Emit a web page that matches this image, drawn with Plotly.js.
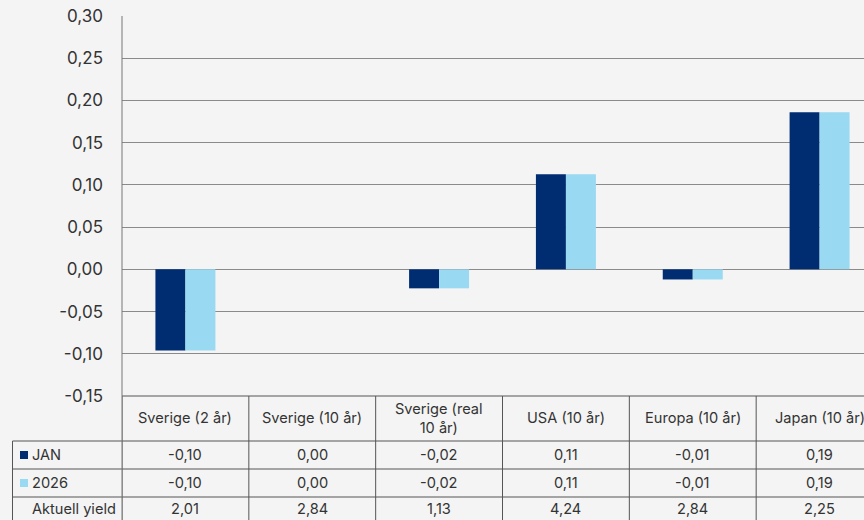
<!DOCTYPE html>
<html><head><meta charset="utf-8">
<script src="https://cdn.plot.ly/plotly-3.0.1.min.js"></script>
<style>html,body{margin:0;padding:0;background:#f4f4f4;overflow:hidden;}#chart{width:884px;height:520px;}</style>
</head><body><div id="chart"></div>
<script>
const categories = ["Sverige (2 år)", "Sverige (10 år)", "Sverige (real<br>10 år)", "USA (10 år)", "Europa (10 år)", "Japan (10 år)"];
const seriesJan = [-0.096, 0.0, -0.0225, 0.1125, -0.012, 0.186];
const series2026 = [-0.096, 0.0, -0.0225, 0.1125, -0.012, 0.186];
const aktuellYield = [2.01, 2.84, 1.13, 4.24, 2.84, 2.25];
const seriesNames = ["JAN", "2026"];
const rowLabelYield = "Aktuell yield";
const yTicks = [-0.15, -0.10, -0.05, 0.00, 0.05, 0.10, 0.15, 0.20, 0.25, 0.30];

const darkBlue = "#002d72", lightBlue = "#9ad9f2";
const txt = "#333333", tableLine = "#555555";
const fmt = v => (Math.abs(v) < 0.005 ? 0 : v).toFixed(2).replace('.', ',');

// plot geometry: plot area from y=16 to 396 (380px), x from 122 to 883
const plotTop = 16, plotBottom = 396, plotH = plotBottom - plotTop;
const py = p => (plotBottom - p) / plotH; // pixel -> paper y
const plotLeft = 122, plotW = 761;
const px = p => (p - plotLeft) / plotW;

const rowEdges = [396, 441, 469, 497, 540];
const shapes = [], annotations = [];
const n = categories.length;
shapes.push({type:'line', xref:'paper', yref:'paper', x0:0, x1:1, y0:py(rowEdges[0]), y1:py(rowEdges[0]), line:{color:tableLine, width:1}});
for (let i = 1; i < rowEdges.length - 1; i++) {
  shapes.push({type:'line', xref:'paper', yref:'paper', x0:px(12.5), x1:1, y0:py(rowEdges[i]), y1:py(rowEdges[i]), line:{color:tableLine, width:1}});
}
for (let i = 0; i <= n; i++) {
  shapes.push({type:'line', xref:'x', yref:'paper', x0:i-0.5, x1:i-0.5, y0:py(rowEdges[0]), y1:py(rowEdges[4]), line:{color:tableLine, width:1}});
}
shapes.push({type:'line', xref:'paper', yref:'paper', x0:px(12.5), x1:px(12.5), y0:py(rowEdges[1]), y1:py(rowEdges[4]), line:{color:tableLine, width:1}});
shapes.push({type:'line', xref:'paper', yref:'paper', x0:0, x1:0, y0:1, y1:py(rowEdges[4]), line:{color:'#777', width:1}});
[darkBlue, lightBlue].forEach((c, k) => {
  const cy = (rowEdges[1+k] + rowEdges[2+k]) / 2;
  shapes.push({type:'rect', xref:'paper', yref:'paper', x0:px(20), x1:px(28), y0:py(cy+4), y1:py(cy-4), fillcolor:c, line:{width:0}});
});

const tf = {family:'Inter, "Noto Sans", sans-serif', size:14.6, color:txt};
categories.forEach((c, i) => {
  annotations.push({xref:'x', yref:'paper', x:i, y:py((rowEdges[0]+rowEdges[1])/2), text:c, showarrow:false, font:tf, xanchor:'center', yanchor:'middle'});
  annotations.push({xref:'x', yref:'paper', x:i, y:py((rowEdges[1]+rowEdges[2])/2), text:fmt(seriesJan[i]), showarrow:false, font:tf, xanchor:'center', yanchor:'middle'});
  annotations.push({xref:'x', yref:'paper', x:i, y:py((rowEdges[2]+rowEdges[3])/2), text:fmt(series2026[i]), showarrow:false, font:tf, xanchor:'center', yanchor:'middle'});
  annotations.push({xref:'x', yref:'paper', x:i, y:py(509), text:fmt(aktuellYield[i]), showarrow:false, font:tf, xanchor:'center', yanchor:'middle'});
});
seriesNames.forEach((s, k) => {
  annotations.push({xref:'paper', yref:'paper', x:px(30), y:py((rowEdges[1+k]+rowEdges[2+k])/2), text:s, showarrow:false, font:tf, xanchor:'left', yanchor:'middle'});
});
annotations.push({xref:'paper', yref:'paper', x:px(30), y:py(509), text:rowLabelYield, showarrow:false, font:tf, xanchor:'left', yanchor:'middle'});

const idx = categories.map((_, i) => i);
const data = [
  {type:'bar', name:seriesNames[0], x:idx, y:seriesJan, marker:{color:darkBlue, line:{width:0}}, hoverinfo:'skip'},
  {type:'bar', name:seriesNames[1], x:idx, y:series2026, marker:{color:lightBlue, line:{width:0}}, hoverinfo:'skip'}
];
const layout = {
  width:884, height:520,
  margin:{l:122, r:1, t:16, b:124},
  paper_bgcolor:'#f4f4f4', plot_bgcolor:'#f4f4f4',
  separators:', ',
  barmode:'group', bargap:0.527, bargroupgap:0,
  showlegend:false,
  xaxis:{range:[-0.5, n-0.5], showticklabels:false, showgrid:false, zeroline:false, showline:false, fixedrange:true},
  yaxis:{range:[-0.15, 0.30], tickvals:yTicks, ticktext:yTicks.map(fmt), showgrid:true, gridcolor:'#8a8a8a', gridwidth:1,
         zeroline:true, zerolinecolor:'#8a8a8a', zerolinewidth:1, showline:false, ticks:'', ticklabelstandoff:18,
         tickfont:{family:'Inter, "Noto Sans", sans-serif', size:17, color:txt}, fixedrange:true},
  shapes:shapes, annotations:annotations
};
Plotly.newPlot('chart', data, layout, {displayModeBar:false, staticPlot:true});
</script></body></html>
